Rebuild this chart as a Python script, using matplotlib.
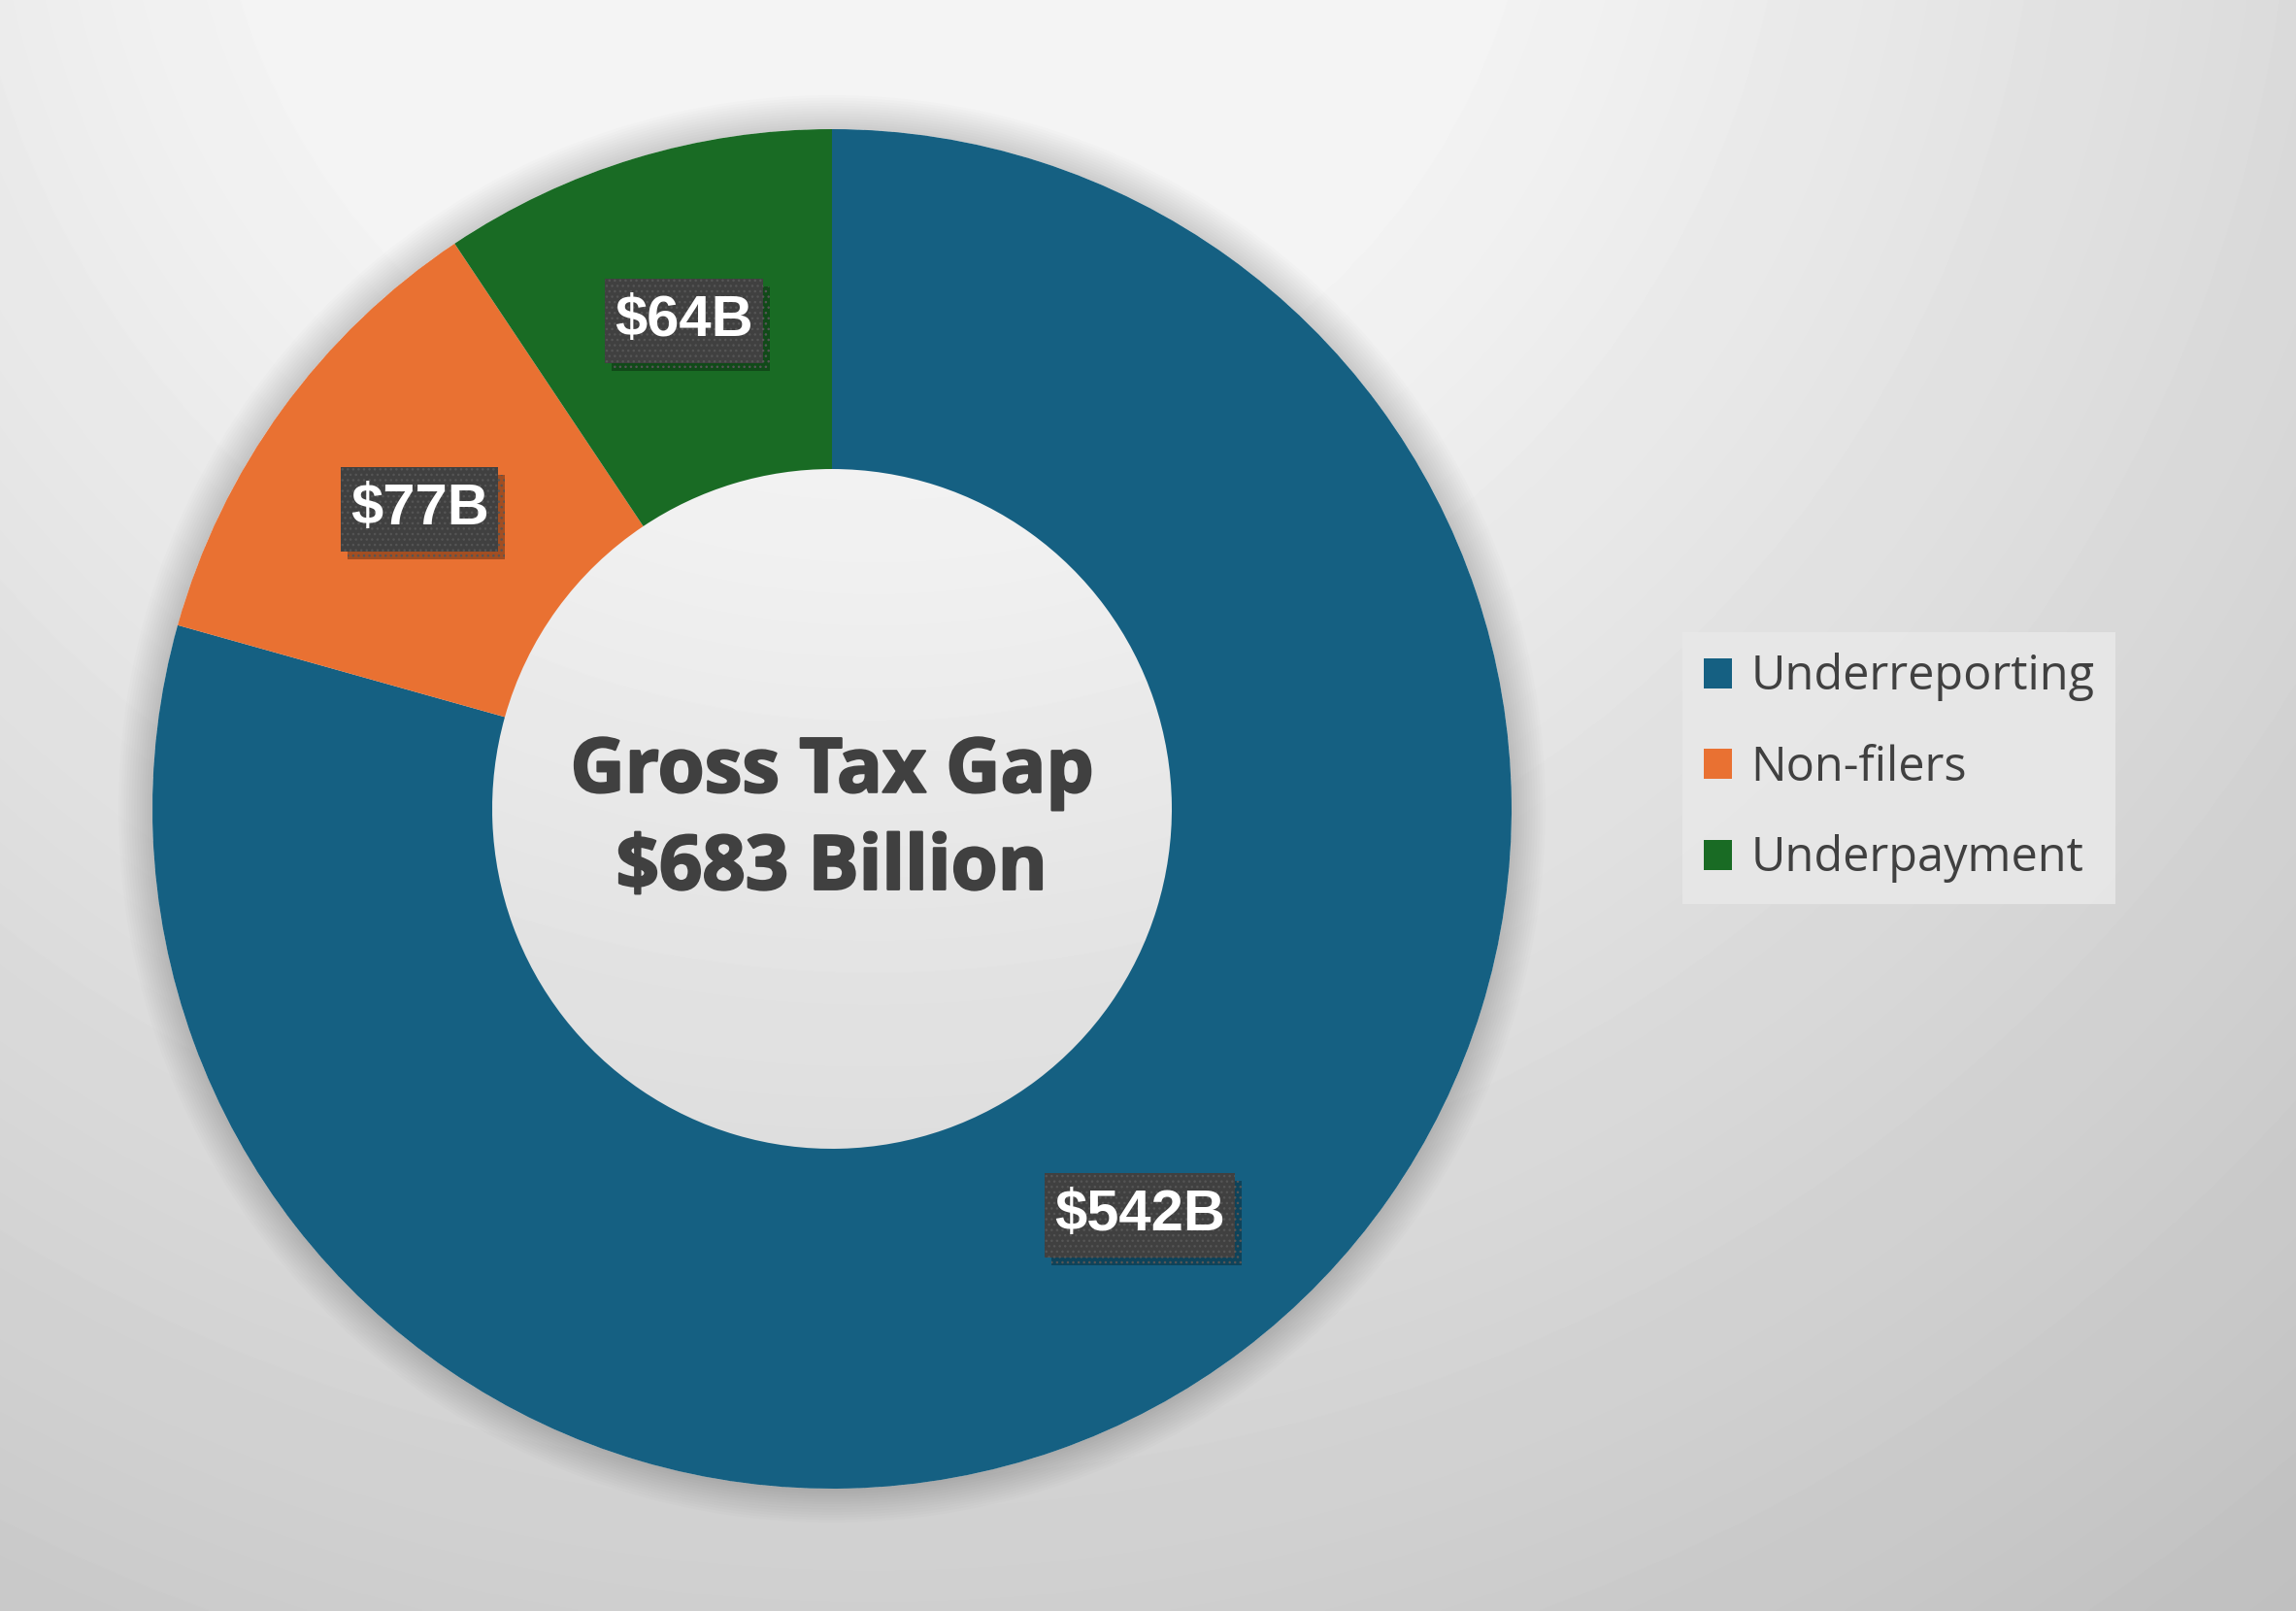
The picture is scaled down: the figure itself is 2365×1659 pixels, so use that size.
import numpy as np
import matplotlib.pyplot as plt
import matplotlib.patheffects as pe
from matplotlib.patches import Wedge, Patch, Rectangle

# data
categories = ["Underreporting", "Non-filers", "Underpayment"]
values = [542, 77, 64]  # $ billions
colors = ["#156082", "#E97132", "#196B24"]
center_title = "Gross Tax Gap"
center_total = "$683 Billion"

W, H = 2365, 1659
fig = plt.figure(figsize=(W / 100, H / 100), dpi=100)

# background gradient (light at top, darker towards bottom corners)
bg = fig.add_axes([0, 0, 1, 1], zorder=-10)
yy, xx = np.mgrid[0:H, 0:W]
d = np.hypot(xx - 900, yy + 200)
shade = np.clip(264 - 0.0307 * d, 190, 244) / 255
bg.imshow(shade, cmap="gray", vmin=0, vmax=1, aspect="auto",
          extent=[0, 1, 0, 1], interpolation="bilinear")
bg.axis("off")

# donut axes: centre (857, 833) px, outer radius 700 px
cx, cy, R = 857, 833, 700
ax = fig.add_axes([(cx - R) / W, (H - cy - R) / H, 2 * R / W, 2 * R / H])
ax.axis("off")

# soft shadow around the ring (outside only)
for r in np.linspace(1.05, 1.0, 14)[:-1]:
    ax.add_patch(Wedge((0, 0), r, 0, 360, width=r - 1.0, color="black",
                       alpha=0.012, lw=0, zorder=0, clip_on=False))


def fmt(pct):
    return "${:.0f}B".format(pct * sum(values) / 100)


wedges, _, autotexts = ax.pie(values, colors=colors, startangle=90,
                              counterclock=False, radius=1,
                              wedgeprops=dict(width=0.5, linewidth=0),
                              autopct=fmt, pctdistance=0.75)
ax.set_xlim(-1, 1)
ax.set_ylim(-1, 1)
ax.set_aspect("equal")

for t in autotexts:
    t.set_fontfamily("Liberation Sans")
    t.set_fontweight("bold")
    t.set_fontsize(43)
    t.set_color("white")
    t.set_zorder(5)

# dark label boxes behind the value labels (text width + padding, 87 px tall)
fig.canvas.draw()
renderer = fig.canvas.get_renderer()
for t in autotexts:
    x, y = t.get_position()
    bw = (t.get_window_extent(renderer).width + 20) / R
    bh = 87 / R
    box = Rectangle((x - bw / 2, y - bh / 2), bw, bh, facecolor="#404040",
                    edgecolor="#555555", linewidth=0, hatch="...", zorder=4)
    box.set_path_effects([pe.SimplePatchShadow(offset=(5, -6), shadow_rgbFace="black",
                                               alpha=0.3), pe.Normal()])
    ax.add_patch(box)

heavy = [pe.withStroke(linewidth=1.6, foreground="#404040")]
ax.text(0, 0.054, center_title, ha="center", va="center", fontsize=56,
        fontweight="bold", color="#404040", family="Open Sans", path_effects=heavy)
ax.text(0, -0.089, center_total, ha="center", va="center", fontsize=56,
        fontweight="bold", color="#404040", family="Open Sans", path_effects=heavy)

handles = [Patch(facecolor=c, edgecolor="none") for c in colors]
leg = fig.legend(handles, categories, loc="center", bbox_to_anchor=(1956 / W, 1 - 791 / H),
                 frameon=True, fancybox=False,
                 prop=dict(family="Open Sans", size=35),
                 handlelength=0.6, handleheight=0.6, handletextpad=0.4,
                 labelspacing=0.9, borderpad=0.45, borderaxespad=0)
leg.get_frame().set_facecolor("#e8e8e8")
leg.get_frame().set_edgecolor("none")
leg.get_frame().set_alpha(0.9)
for txt in leg.get_texts():
    txt.set_color("#404040")

fig.savefig("out.png", dpi=100)
